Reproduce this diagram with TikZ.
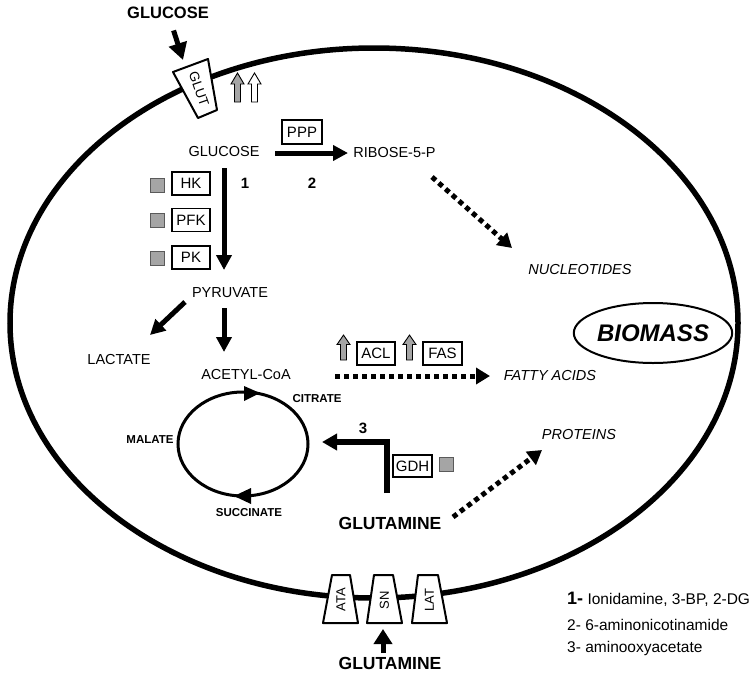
\documentclass[tikz,border=0pt]{standalone}
\usepackage{fontspec}
\setmainfont{Liberation Sans}
\usetikzlibrary{arrows.meta,shapes.geometric}
\definecolor{gr}{RGB}{165,165,165}
\definecolor{grd}{RGB}{90,90,90}
\begin{document}
\begin{tikzpicture}[x=1pt,y=-1pt,
  txt/.style={inner sep=0pt, font=\fontsize{14.5}{16}\selectfont},
  itxt/.style={inner sep=0pt, font=\fontsize{14.5}{16}\selectfont\itshape},
  btxt/.style={inner sep=0pt, font=\fontsize{17.5}{19}\selectfont\bfseries},
  stxt/.style={inner sep=0pt, font=\fontsize{11.5}{13}\selectfont\bfseries},
  num/.style={inner sep=0pt, font=\fontsize{15}{17}\selectfont\bfseries},
  enz/.style={draw, line width=1.8pt, inner sep=0pt, minimum width=38pt, minimum height=23pt, font=\fontsize{15}{16}\selectfont, fill=white},
  inh/.style={draw=grd, line width=0.9pt, fill=gr, minimum width=14pt, minimum height=14pt, inner sep=0pt},
  bigarr/.style={line width=5pt, -{Triangle[length=15pt,width=15pt]}},
  dotarr/.style={line width=5pt, dash pattern=on 5pt off 4pt, -{Triangle[length=14pt,width=16pt]}},
  trans/.style={draw, line width=2pt, fill=white, line join=round},
  ttxt/.style={inner sep=0pt, rotate=90, font=\fontsize{13}{14}\selectfont},
  leg/.style={anchor=base west, inner sep=0pt, font=\fontsize{15.5}{17}\selectfont},
  pics/uparr/.style={code={\draw[line width=0.9pt, fill=#1, line join=miter] (-3,0) -- (-3,-18) -- (-6.5,-18) -- (0,-29) -- (6.5,-18) -- (3,-18) -- (3,0) -- cycle;}}
]
\useasboundingbox (0,0) rectangle (755,675);

% cell membrane
\draw[line width=5.5pt] (374,323) ellipse [x radius=364pt, y radius=275pt];

% GLUT transporter
\draw[trans] (173,72) -- (208,59) -- (217,110) -- (198,118) -- cycle;
\node[inner sep=0pt, rotate=-71, font=\fontsize{13.5}{14}\selectfont] (glut) at (199,89) {GLUT};
\pic at (237.5,102) {uparr=gr};
\pic at (254.5,102) {uparr=white};

% texts
\node[inner sep=0pt, font=\fontsize{16.5}{18}\selectfont\bfseries] (glctop) at (168,13) {GLUCOSE};
\node[txt] (glc) at (224,152) {GLUCOSE};
\node[txt] (rib) at (394.5,153) {RIBOSE-5-P};
\node[itxt] (nuc) at (580,270) {NUCLEOTIDES};
\node[draw, ellipse, line width=2pt, minimum width=132pt, minimum height=60pt, inner sep=0pt,
      font=\fontsize{24}{26}\selectfont\bfseries\itshape] (bio) at (653,333) {BIOMASS};
\node[txt] (pyr) at (230,293) {PYRUVATE};
\node[txt] (lac) at (119,360) {LACTATE};
\node[txt] (acc) at (246,375) {ACETYL-CoA};
\node[itxt] (fa) at (550,376) {FATTY ACIDS};
\node[stxt] (cit) at (317,399) {CITRATE};
\node[stxt] (mal) at (150,440) {MALATE};
\node[stxt] (suc) at (249,513) {SUCCINATE};
\node[itxt] (prot) at (579,435) {PROTEINS};
\node[btxt] (gln) at (390,523) {GLUTAMINE};
\node[btxt] (glnb) at (390,663) {GLUTAMINE};
\node[num] (n1) at (245,183) {1};
\node[num] (n2) at (312,183) {2};
\node[num] (n3) at (363,428) {3};

% enzymes and inhibitors
\node[enz, minimum width=40pt, minimum height=24pt] (ppp) at (302,132) {PPP};
\node[enz] (hk) at (191,183.5) {HK};
\node[enz] (pfk) at (191,220) {PFK};
\node[enz] (pk) at (191,257.5) {PK};
\node[inh] (ihk) at (157.5,185) {};
\node[inh] (ipfk) at (157.5,220) {};
\node[inh] (ipk) at (157.5,258) {};
\node[enz] (acl) at (376,353.5) {ACL};
\node[enz, minimum width=39pt] (fas) at (442.5,353.5) {FAS};
\pic[yscale=0.86] at (343.5,360) {uparr=gr};
\pic[yscale=0.86] at (409.5,360) {uparr=gr};
\node[enz, minimum width=39pt, minimum height=22pt] (gdh) at (412.5,466) {GDH};
\node[inh] (igdh) at (446.5,464.5) {};

% connector end points
\coordinate (gin) at (183,60);
\coordinate (ga) at (275,153);
\coordinate (gb) at (348,153);
\coordinate (gc) at (224,168);
\coordinate (gd) at (224,270);
\coordinate (pa) at (224,308);
\coordinate (pb) at (224,352);
\coordinate (pc) at (185,302);
\coordinate (pd) at (150,335);
\coordinate (ra) at (432,177);
\coordinate (rb) at (512,248);
\coordinate (aa) at (335,376);
\coordinate (ab) at (490,376);
\coordinate (qa) at (453,517);
\coordinate (qb) at (542,450);
\coordinate (ta) at (387,493);
\coordinate (tc) at (322,442);
\coordinate (sa) at (383,653);
\coordinate (sb) at (383,629);

\draw[line width=5pt, -{Triangle[length=17pt,width=18pt]}, shorten <=12pt] (glctop) -- (gin);
\draw[bigarr] (ga) -- (gb);
\draw[bigarr] (gc) -- (gd);
\draw[bigarr] (pa) -- (pb);
\draw[bigarr] (pc) -- (pd);
\draw[dotarr] (ra) -- (rb);
\draw[dotarr] (aa) -- (ab);
\draw[dotarr] (qa) -- (qb);
\draw[line width=5.5pt, line join=miter, -{Triangle[length=15pt,width=16pt]}] (ta) |- (tc);

% citric acid cycle
\draw[line width=3pt] (243,444) ellipse [x radius=65pt, y radius=52pt];
\fill (244,386) -- (260,393) -- (244,401) -- cycle;
\fill (251,488) -- (234,496) -- (251,504) -- cycle;

% amino acid transporters
\draw[trans] (332,575) -- (350,575) -- (358,623) -- (323,623) -- cycle;
\draw[trans] (374,575) -- (393,575) -- (402,623) -- (367,623) -- cycle;
\draw[trans] (418,575) -- (438,575) -- (447,623) -- (412,623) -- cycle;
\node[ttxt] (ata) at (341,600) {ATA};
\node[ttxt] (sn) at (384.5,600) {SN};
\node[ttxt] (lat) at (429.5,600) {LAT};
\draw[line width=5pt, -{Triangle[length=15pt,width=18pt]}] (sa) -- (sb);

% legend
\node[leg] (l1) at (567,604) {{\fontsize{18}{19}\selectfont\bfseries 1-} Ionidamine, 3-BP, 2-DG};
\node[leg] (l2) at (567,630) {2- 6-aminonicotinamide};
\node[leg] (l3) at (567,652) {3- aminooxyacetate};
\end{tikzpicture}
\end{document}
